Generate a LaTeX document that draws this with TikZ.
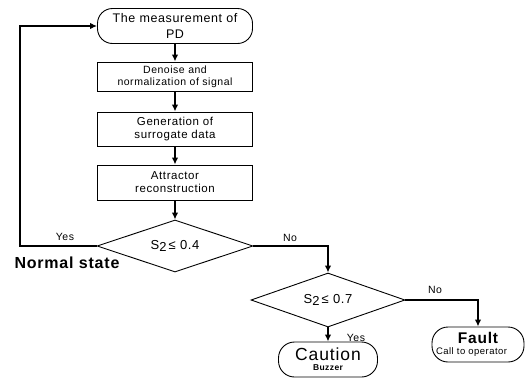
\documentclass[tikz,border=0pt]{standalone}
\usepackage{fontspec}
\setmainfont{Liberation Sans}[LetterSpace=5]
\usetikzlibrary{arrows.meta,shapes.geometric}
\tikzset{
  boxnode/.style={draw, line width=0.9pt, inner sep=0pt, align=center, minimum width=155pt, font=\fontsize{11.5}{13}\selectfont},
  termnode/.style={draw, line width=0.9pt, inner sep=0pt, align=center, rounded corners=15pt},
  decnode/.style={draw, line width=0.9pt, diamond, aspect=3, inner sep=0pt, font=\fontsize{13}{14}\selectfont},
  arr/.style={line width=1.3pt, -{Latex[length=7pt,width=6.5pt]}},
  lbl/.style={inner sep=0pt, font=\fontsize{10.5}{12}\selectfont},
}
\begin{document}
\begin{tikzpicture}[x=1pt,y=-1pt]
\useasboundingbox (0,0) rectangle (528,383);
\node[termnode, minimum width=155pt, minimum height=35pt, font=\fontsize{12.5}{16}\selectfont] (term) at (175,26) {The measurement of\\PD};
\node[boxnode, minimum height=29pt, font=\fontsize{10.5}{12}\selectfont] (b1) at (175,76.5) {Denoise and\\normalization of signal};
\node[boxnode, minimum height=34pt] (b2) at (175,129) {Generation of\\surrogate data};
\node[boxnode, minimum height=35pt] (b3) at (175,182.5) {Attractor\\reconstruction};
\node[decnode, minimum width=156pt, minimum height=52pt] (d1) at (175,246) {S\raisebox{-2.5pt}{2}\,≤ 0.4};
\node[decnode, minimum width=154pt, minimum height=54pt] (d2) at (328,300) {S\raisebox{-2.5pt}{2}\,≤ 0.7};
\node[termnode, minimum width=99pt, minimum height=35pt, rounded corners=16pt] (caution) at (328,359.5) {\fontsize{17.5}{17}\selectfont Caution\\[-2pt]\fontsize{8.5}{9}\selectfont\bfseries Buzzer};
\node[termnode, minimum width=92pt, minimum height=35pt, rounded corners=16pt] (fault) at (478,344.5) {\fontsize{15.5}{15}\selectfont\bfseries Fault\\[-1pt]\fontsize{9.5}{10}\selectfont\makebox[76pt][l]{\hspace{-4pt}Call to operator}};
\coordinate (lb) at (20,246);
\coordinate (lt) at (20,26);
\draw[arr] (term) -- (b1);
\draw[arr] (b1) -- (b2);
\draw[arr] (b2) -- (b3);
\draw[arr] (b3) -- (d1);
\draw[arr] (d1.west) -- (lb) -- (lt) -- (term.west);
\draw[arr] (d1.east) -| (d2.north);
\draw[arr] (d2.east) -| (fault.north);
\draw[arr] (d2.south) -- (caution.north);
\node[lbl] (yes1) at (65,237) {Yes};
\node[lbl, font=\fontsize{16}{17}\selectfont\bfseries] (normal) at (67,263) {Normal state};
\node[lbl] (no1) at (290,238) {No};
\node[lbl] (no2) at (435,290) {No};
\node[lbl] (yes2) at (356,338) {Yes};
\end{tikzpicture}
\end{document}
